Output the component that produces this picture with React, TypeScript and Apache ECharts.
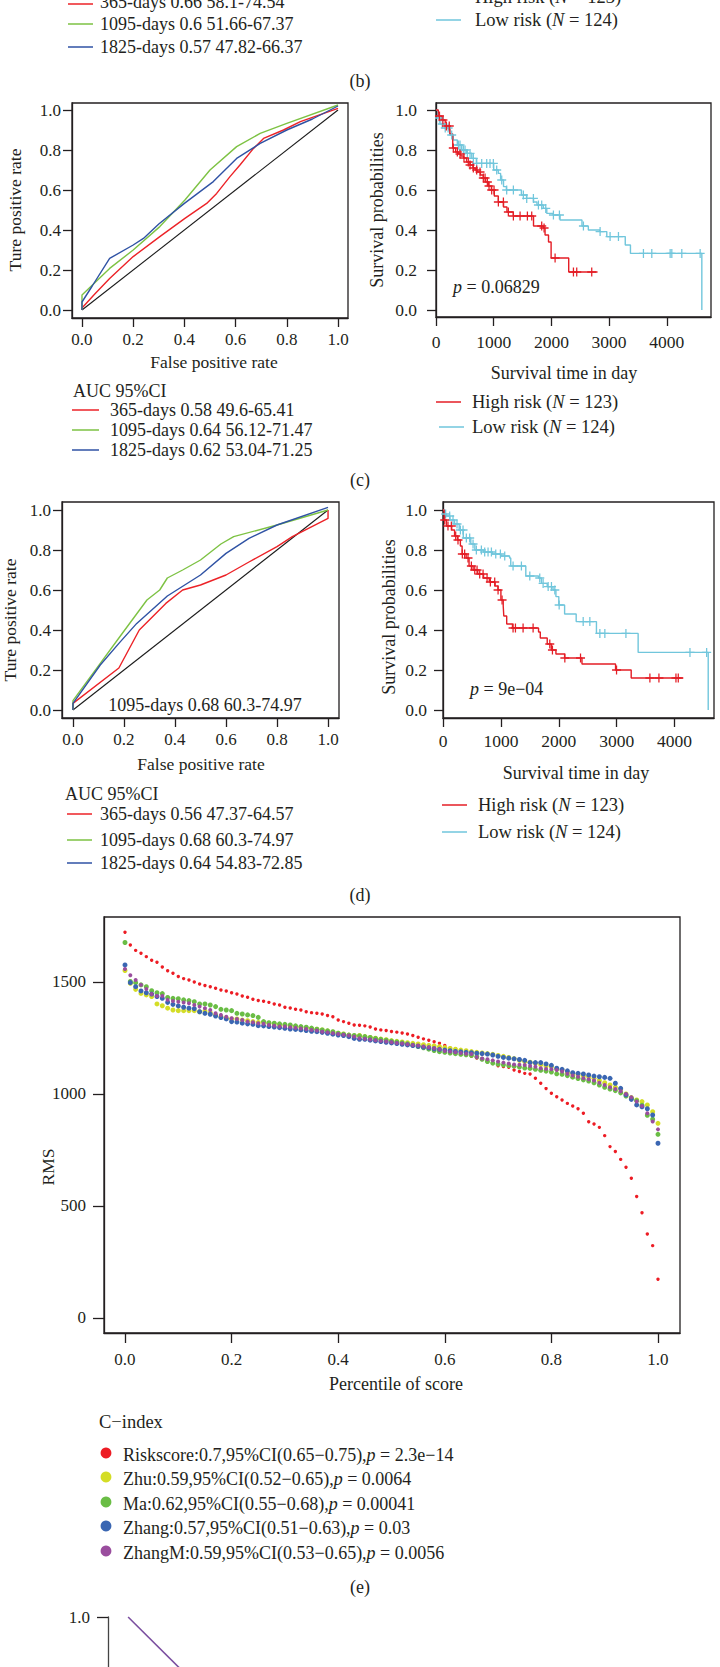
import React, { useEffect, useRef } from 'react';
import * as echarts from 'echarts';

const FONT = "'Liberation Serif', 'Times New Roman', serif";
const TXT = '#231f20';
const AX = '#231f20';
const ROC_RED = '#ec2227';
const ROC_GREEN = '#7dc243';
const ROC_BLUE = '#2f52a4';
const KM_RED = '#e41e26';
const KM_CYAN = '#71c6dc';
const E_RED = '#ed1c24';
const E_YELLOW = '#d4dd26';
const E_GREEN = '#6abd45';
const E_BLUE = '#3a66b2';
const E_PURPLE = '#9a4d9e';

const LEG = 18;
const KMLEG = 18.5;
const TITLE = 17.5;
const TICK = 17;

// ---------- Panel (c) ROC ----------
const rocC365X = [0, 0, 0.05, 0.108, 0.2, 0.304, 0.402, 0.487, 0.526, 0.578, 0.617, 0.67, 0.709, 0.787, 0.853, 1.0];
const rocC365Y = [0, 0.01, 0.08, 0.158, 0.267, 0.367, 0.458, 0.533, 0.583, 0.667, 0.725, 0.808, 0.858, 0.9, 0.942, 1.008];
const rocC1095X = [0, 0, 0.108, 0.2, 0.304, 0.402, 0.5, 0.604, 0.696, 0.8, 1.0];
const rocC1095Y = [0, 0.075, 0.208, 0.3, 0.417, 0.55, 0.7, 0.817, 0.883, 0.933, 1.025];
const rocC1825X = [0, 0, 0.04, 0.108, 0.2, 0.24, 0.3, 0.4, 0.513, 0.604, 0.696, 0.8, 0.9, 1.0];
const rocC1825Y = [0, 0.04, 0.12, 0.258, 0.325, 0.358, 0.43, 0.533, 0.642, 0.758, 0.833, 0.9, 0.955, 1.02];

// ---------- Panel (d) ROC ----------
const rocD365X = [0, 0, 0.18, 0.26, 0.364, 0.43, 0.5, 0.6, 0.69, 0.8, 0.86, 1.0, 1.0];
const rocD365Y = [0, 0.033, 0.21, 0.4, 0.533, 0.6, 0.625, 0.675, 0.74, 0.817, 0.867, 0.958, 1.0];
const rocD1095X = [0, 0, 0.107, 0.18, 0.29, 0.34, 0.37, 0.43, 0.5, 0.58, 0.63, 0.8, 1.0];
const rocD1095Y = [0, 0.047, 0.233, 0.36, 0.55, 0.6, 0.66, 0.7, 0.75, 0.83, 0.867, 0.925, 1.0];
const rocD1825X = [0, 0, 0.107, 0.18, 0.25, 0.37, 0.5, 0.6, 0.69, 0.8, 1.0];
const rocD1825Y = [0, 0.033, 0.225, 0.333, 0.433, 0.57, 0.675, 0.783, 0.858, 0.925, 1.013];
const diagX = [0, 1];
const diagY = [0, 1];

// ---------- Panel (c) KM ----------
const kmCHighT = [0, 40, 100, 160, 240, 290, 340, 390, 430, 480, 530, 590, 640, 680, 720, 770, 820, 860, 910, 960, 1010, 1080, 1170, 1230, 1340, 1690, 1860, 1890, 1950, 1995, 2300, 2800];
const kmCHighS = [1.0, 0.97, 0.95, 0.92, 0.88, 0.81, 0.79, 0.78, 0.77, 0.76, 0.74, 0.725, 0.71, 0.7, 0.69, 0.675, 0.66, 0.64, 0.62, 0.6, 0.57, 0.54, 0.515, 0.49, 0.47, 0.42, 0.41, 0.375, 0.34, 0.26, 0.19, 0.19];
const kmCHighCens = [60, 120, 180, 230, 300, 370, 416, 485, 560, 590, 647, 705, 763, 820, 850, 890, 919, 965, 1006, 1081, 1168, 1254, 1341, 1457, 1584, 1659, 1832, 1873, 2064, 2382, 2439, 2699];
const kmCLowT = [0, 30, 70, 150, 240, 300, 370, 445, 530, 620, 700, 1000, 1080, 1120, 1170, 1220, 1480, 1570, 1690, 1750, 1860, 1920, 2030, 2150, 2530, 2640, 2840, 2960, 3280, 3370, 4607];
const kmCLowS = [1.0, 0.96, 0.93, 0.91, 0.875, 0.85, 0.825, 0.8, 0.783, 0.758, 0.733, 0.7, 0.683, 0.65, 0.617, 0.6, 0.575, 0.558, 0.54, 0.525, 0.508, 0.483, 0.475, 0.45, 0.42, 0.4, 0.392, 0.367, 0.325, 0.283, 0.0];
const kmCLowCens = [60, 110, 160, 210, 272, 387, 416, 474, 503, 543, 590, 647, 705, 792, 879, 936, 994, 1052, 1139, 1225, 1341, 1514, 1572, 1688, 1775, 1832, 1902, 2035, 2139, 2555, 2844, 3017, 3162, 3595, 3740, 4058, 4087, 4260, 4578];

// ---------- Panel (d) KM ----------
const kmDHighT = [0, 20, 60, 150, 200, 250, 300, 330, 400, 450, 520, 600, 700, 800, 900, 950, 1000, 1040, 1050, 1100, 1200, 1650, 1680, 1800, 1870, 1950, 2100, 2400, 2980, 3250, 4150];
const kmDHighS = [1.0, 0.95, 0.92, 0.9, 0.87, 0.85, 0.82, 0.78, 0.76, 0.72, 0.7, 0.68, 0.66, 0.64, 0.62, 0.6, 0.55, 0.52, 0.47, 0.43, 0.41, 0.39, 0.36, 0.33, 0.3, 0.28, 0.26, 0.23, 0.2, 0.16, 0.16];
const kmDHighCens = [30, 86, 144, 219, 259, 334, 374, 432, 490, 548, 588, 634, 692, 761, 818, 893, 951, 1020, 1210, 1251, 1383, 1556, 1844, 1890, 2104, 2375, 2997, 3573, 3729, 4023, 4063];
const kmDLowT = [0, 30, 60, 120, 200, 280, 350, 480, 550, 700, 850, 1000, 1150, 1170, 1430, 1650, 1700, 1800, 1900, 1950, 2000, 2100, 2300, 2650, 3370, 4580];
const kmDLowS = [1.0, 0.98, 0.97, 0.95, 0.93, 0.9, 0.86, 0.83, 0.8, 0.79, 0.78, 0.77, 0.76, 0.72, 0.67, 0.66, 0.633, 0.617, 0.6, 0.567, 0.525, 0.48, 0.442, 0.383, 0.288, 0.0];
const kmDLowCens = [46, 115, 173, 242, 300, 346, 403, 461, 519, 576, 663, 720, 778, 836, 911, 991, 1066, 1210, 1354, 1499, 1671, 1729, 1816, 1873, 1931, 2006, 2421, 2536, 2709, 2795, 3159, 4265, 4553];

// ---------- Panel (e) RMS by percentile ----------
const eRiskscore = [
  1722, 1665, 1641, 1628, 1613, 1597, 1588, 1567, 1550, 1539,
  1524, 1515, 1509, 1500, 1491, 1484, 1479, 1472, 1464, 1460,
  1452, 1446, 1437, 1432, 1423, 1417, 1414, 1409, 1402, 1397,
  1387, 1384, 1378, 1375, 1367, 1363, 1360, 1357, 1350, 1345,
  1330, 1323, 1316, 1308, 1307, 1304, 1299, 1290, 1286, 1283,
  1279, 1276, 1272, 1268, 1261, 1253, 1246, 1240, 1233, 1226,
  1216, 1205, 1196, 1188, 1178, 1168, 1160, 1155, 1150, 1136,
  1126, 1122, 1119, 1107, 1100, 1092, 1089, 1070, 1048, 1024,
  1003, 988, 973, 958, 946, 934, 914, 876, 866, 851,
  814, 765, 743, 708, 673, 624, 542, 470, 375, 323,
  173,
];
const eZhu = [
  1551, 1494, 1467, 1449, 1442, 1435, 1402, 1394, 1383, 1375,
  1372, 1372, 1372, 1372, 1367, 1370, 1363, 1353, 1345, 1340,
  1335, 1335, 1330, 1327, 1323, 1319, 1320, 1316, 1313, 1308,
  1306, 1304, 1301, 1298, 1295, 1292, 1289, 1286, 1281, 1276,
  1271, 1268, 1263, 1259, 1261, 1256, 1252, 1249, 1245, 1242,
  1238, 1235, 1232, 1229, 1226, 1223, 1220, 1217, 1214, 1211,
  1207, 1203, 1200, 1196, 1193, 1189, 1186, 1183, 1180, 1177,
  1172, 1168, 1163, 1158, 1150, 1145, 1142, 1137, 1131, 1125,
  1122, 1110, 1107, 1095, 1089, 1085, 1080, 1077, 1070, 1060,
  1050, 1040, 1030, 1021, 1000, 984, 973, 966, 951, 921,
  869,
];
const eMa = [
  1676, 1502, 1497, 1487, 1479, 1461, 1452, 1448, 1431, 1427,
  1425, 1420, 1417, 1412, 1402, 1402, 1397, 1390, 1378, 1375,
  1372, 1360, 1357, 1353, 1350, 1342, 1323, 1318, 1316, 1313,
  1311, 1308, 1304, 1301, 1298, 1294, 1289, 1286, 1282, 1278,
  1271, 1267, 1263, 1261, 1259, 1256, 1252, 1248, 1244, 1240,
  1236, 1232, 1228, 1224, 1218, 1212, 1206, 1200, 1194, 1189,
  1186, 1183, 1180, 1177, 1175, 1172, 1166, 1155, 1145, 1138,
  1133, 1130, 1127, 1124, 1120, 1116, 1114, 1110, 1106, 1102,
  1098, 1090, 1088, 1082, 1075, 1069, 1063, 1058, 1050, 1040,
  1030, 1022, 1015, 1005, 991, 981, 970, 950, 905, 887,
  820,
];
const eZhang = [
  1576, 1497, 1479, 1460, 1452, 1446, 1435, 1427, 1409, 1400,
  1393, 1387, 1383, 1381, 1367, 1360, 1356, 1348, 1341, 1335,
  1323, 1321, 1316, 1313, 1311, 1305, 1304, 1301, 1299, 1296,
  1293, 1290, 1288, 1286, 1283, 1280, 1278, 1275, 1271, 1267,
  1263, 1261, 1256, 1248, 1244, 1244, 1240, 1237, 1234, 1231,
  1228, 1225, 1222, 1219, 1216, 1213, 1209, 1206, 1202, 1199,
  1196, 1193, 1190, 1188, 1186, 1184, 1182, 1180, 1178, 1174,
  1168, 1163, 1160, 1157, 1154, 1150, 1140, 1140, 1140, 1134,
  1128, 1115, 1110, 1103, 1095, 1092, 1089, 1085, 1080, 1077,
  1074, 1070, 1048, 1025, 996, 976, 951, 943, 934, 906,
  780,
];
const eZhangM = [
  1558, 1530, 1509, 1487, 1469, 1446, 1437, 1437, 1420, 1415,
  1412, 1408, 1405, 1397, 1390, 1383, 1375, 1360, 1353, 1345,
  1338, 1335, 1330, 1323, 1320, 1316, 1313, 1308, 1305, 1301,
  1301, 1298, 1295, 1292, 1290, 1286, 1283, 1278, 1275, 1271,
  1268, 1264, 1261, 1256, 1249, 1246, 1243, 1240, 1237, 1234,
  1231, 1228, 1225, 1222, 1219, 1216, 1212, 1208, 1204, 1200,
  1192, 1189, 1186, 1183, 1180, 1178, 1165, 1158, 1155, 1150,
  1145, 1140, 1136, 1132, 1130, 1129, 1125, 1122, 1115, 1112,
  1110, 1107, 1100, 1090, 1082, 1077, 1070, 1066, 1060, 1050,
  1040, 1030, 1022, 1012, 1000, 985, 966, 946, 914, 877,
  842,
];

// ---------- Panel (f) (partially visible) ----------
const fX = [0.067, 0.245];
const fY = [1.0, 0.735];

// tick labels
const rocTicks = [0, 0.2, 0.4, 0.6, 0.8, 1.0];
const kmTimeTicks = [0, 1000, 2000, 3000, 4000];
const eXTicks = [0, 0.2, 0.4, 0.6, 0.8, 1.0];
const eYTicks = [0, 500, 1000, 1500];
const fYTicks = [1.0];

const PLUS = 'path://M4.3,0H5.7V4.3H10V5.7H5.7V10H4.3V5.7H0V4.3H4.3Z';

function pairs(xs: number[], ys: number[]) {
  return xs.map((x, i) => [x, ys[i]]);
}
function stepAt(ts: number[], ss: number[], t: number) {
  let v = ss[0];
  for (let i = 0; i < ts.length; i++) {
    if (ts[i] <= t) v = ss[i];
    else break;
  }
  return v;
}

function axis(gridIndex: number, min: number, max: number, ticks: number[], margin: number, fmt: (v: number) => string, extra: any = {}) {
  return {
    type: 'value',
    gridIndex,
    min,
    max,
    axisLine: { show: true, onZero: false, lineStyle: { color: AX, width: 1.3 } },
    axisTick: { show: true, inside: false, length: extra.tickLen ?? 9, customValues: ticks, lineStyle: { color: AX, width: 1.3 } },
    axisLabel: { show: true, customValues: ticks, margin, formatter: fmt, fontFamily: FONT, fontSize: extra.fontSize ?? TICK, color: TXT },
    splitLine: { show: false },
  };
}

const f1 = (v: number) => v.toFixed(1);
const f0 = (v: number) => String(Math.round(v));

function T(x: number, y: number, text: string, o: any = {}) {
  const size = o.size ?? LEG;
  const base = { fontFamily: FONT, fontSize: size, fill: TXT, color: TXT };
  return {
    type: 'text',
    x,
    y,
    rotation: o.rot ?? 0,
    silent: true,
    style: {
      text,
      fontFamily: FONT,
      fontSize: size,
      fontStyle: o.italic ? 'italic' : 'normal',
      fill: TXT,
      textAlign: o.align ?? 'left',
      align: o.align ?? 'left',
      textVerticalAlign: 'middle',
      verticalAlign: 'middle',
      rich: {
        a: { ...base },
        i: { ...base, fontStyle: 'italic' },
      },
    },
  };
}
function L(x1: number, y1: number, x2: number, y2: number, color: string, w = 1.5) {
  return { type: 'line', silent: true, shape: { x1, y1, x2, y2 }, style: { stroke: color, lineWidth: w } };
}
function C(cx: number, cy: number, color: string) {
  return { type: 'circle', silent: true, shape: { cx, cy, r: 5.4 }, style: { fill: color } };
}

function buildOption() {
  const gridStyle = { show: true, borderColor: AX, borderWidth: 1.3, backgroundColor: 'transparent' };
  const grid = [
    { left: 72, top: 103, width: 276, height: 215, ...gridStyle },
    { left: 436, top: 103, width: 275, height: 214, ...gridStyle },
    { left: 62, top: 502, width: 277, height: 216, ...gridStyle },
    { left: 443, top: 502, width: 271, height: 216, ...gridStyle },
    { left: 104, top: 917, width: 576, height: 416, ...gridStyle },
    { left: 108, top: 1617, width: 300, height: 50, show: false },
  ];
  const xAxis: any[] = [
    axis(0, -0.039, 1.039, rocTicks, 13, f1),
    axis(1, 0, 4766, kmTimeTicks, 16, f0, { fontSize: 17.5 }),
    axis(2, -0.043, 1.043, rocTicks, 13, f1),
    axis(3, 0, 4680, kmTimeTicks, 14, f0, { fontSize: 17.5 }),
    axis(4, -0.0394, 1.0413, eXTicks, 18, f1, { tickLen: 10 }),
    { type: 'value', gridIndex: 5, min: 0, max: 1, show: false },
  ];
  const yAxis: any[] = [
    axis(0, -0.04, 1.035, rocTicks, 11, f1),
    axis(1, -0.035, 1.035, rocTicks, 19, f1, { fontSize: 17.5 }),
    axis(2, -0.04, 1.04, rocTicks, 11, f1),
    axis(3, -0.04, 1.04, rocTicks, 16, f1, { fontSize: 17.5 }),
    axis(4, -67, 1790, eYTicks, 18, f0, { tickLen: 11 }),
    {
      ...axis(5, 0.75, 1.0, fYTicks, 18, f1, { tickLen: 11 }),
      axisLine: { show: true, onZero: false, lineStyle: { color: '#444', width: 1.3 } },
    },
  ];

  const line = (xi: number, data: number[][], color: string, w = 1.4, step: any = false, z = 3) => ({
    type: 'line',
    xAxisIndex: xi,
    yAxisIndex: xi,
    data,
    step,
    symbol: 'none',
    showSymbol: false,
    smooth: false,
    clip: false,
    lineStyle: { color, width: w },
    z,
    silent: true,
  });
  const cens = (xi: number, times: number[], ts: number[], ss: number[], color: string) => ({
    type: 'scatter',
    xAxisIndex: xi,
    yAxisIndex: xi,
    data: times.map((t) => [t, stepAt(ts, ss, t)]),
    symbol: PLUS,
    symbolSize: 9,
    itemStyle: { color, opacity: 1 },
    z: 4,
    silent: true,
  });
  const pts = (arr: number[], color: string, size: number, z: number) => ({
    type: 'scatter',
    xAxisIndex: 4,
    yAxisIndex: 4,
    data: arr.map((v, i) => [i / (arr.length - 1), v]),
    symbol: 'circle',
    symbolSize: size,
    itemStyle: { color, opacity: 1, borderWidth: 0 },
    z,
    silent: true,
  });

  const series: any[] = [
    // (c) ROC
    line(0, pairs(diagX, diagY), '#1a1a1a', 1.1),
    line(0, pairs(rocC365X, rocC365Y), ROC_RED),
    line(0, pairs(rocC1095X, rocC1095Y), ROC_GREEN),
    line(0, pairs(rocC1825X, rocC1825Y), ROC_BLUE),
    // (c) KM
    line(1, pairs(kmCLowT, kmCLowS), KM_CYAN, 1.4, 'end'),
    line(1, pairs(kmCHighT, kmCHighS), KM_RED, 1.4, 'end'),
    cens(1, kmCLowCens, kmCLowT, kmCLowS, KM_CYAN),
    cens(1, kmCHighCens, kmCHighT, kmCHighS, KM_RED),
    // (d) ROC
    line(2, pairs(diagX, diagY), '#1a1a1a', 1.1),
    line(2, pairs(rocD365X, rocD365Y), ROC_RED),
    line(2, pairs(rocD1095X, rocD1095Y), ROC_GREEN),
    line(2, pairs(rocD1825X, rocD1825Y), ROC_BLUE),
    // (d) KM
    line(3, pairs(kmDLowT, kmDLowS), KM_CYAN, 1.4, 'end'),
    line(3, pairs(kmDHighT, kmDHighS), KM_RED, 1.4, 'end'),
    cens(3, kmDLowCens, kmDLowT, kmDLowS, KM_CYAN),
    cens(3, kmDHighCens, kmDHighT, kmDHighS, KM_RED),
    // (e)
    pts(eRiskscore, E_RED, 3.4, 2),
    pts(eZhu, E_YELLOW, 5, 3),
    pts(eMa, E_GREEN, 5, 4),
    pts(eZhang, E_BLUE, 5, 5),
    pts(eZhangM, E_PURPLE, 4, 6),
    // (f)
    line(5, pairs(fX, fY), '#7b4fa0', 1.6),
  ];

  const elements: any[] = [
    // (b) remnants
    L(68, 4, 93, 4, ROC_RED), T(100, 2, '365-days 0.66 58.1-74.54'),
    L(68, 24, 93, 24, ROC_GREEN), T(100, 24, '1095-days 0.6 51.66-67.37'),
    L(68, 47, 93, 47, ROC_BLUE), T(100, 47, '1825-days 0.57 47.82-66.37'),
    L(436, -4, 461, -4, KM_RED), T(475, -3, '{a|High risk (}{i|N}{a| = 123)}', { size: KMLEG }),
    L(436, 20, 461, 20, KM_CYAN), T(475, 20, '{a|Low risk (}{i|N}{a| = 124)}', { size: KMLEG }),
    T(360, 81, '(b)', { align: 'center' }),
    // (c)
    T(15, 210, 'Ture positive rate', { rot: Math.PI / 2, align: 'center', size: TITLE }),
    T(214, 362, 'False positive rate', { align: 'center', size: TITLE }),
    T(73, 391, 'AUC 95%CI'),
    L(72, 410, 99, 410, ROC_RED), T(110, 410, '365-days 0.58 49.6-65.41'),
    L(72, 430, 99, 430, ROC_GREEN), T(110, 430, '1095-days 0.64 56.12-71.47'),
    L(72, 450, 99, 450, ROC_BLUE), T(110, 450, '1825-days 0.62 53.04-71.25'),
    T(377, 210, 'Survival probabilities', { rot: Math.PI / 2, align: 'center' }),
    T(453, 287, '{i|p}{a| = 0.06829}'),
    T(564, 373, 'Survival time in day', { align: 'center' }),
    L(436, 402, 461, 402, KM_RED), T(472, 402, '{a|High risk (}{i|N}{a| = 123)}', { size: KMLEG }),
    L(439, 427, 464, 427, KM_CYAN), T(472, 427, '{a|Low risk (}{i|N}{a| = 124)}', { size: KMLEG }),
    T(360, 480, '(c)', { align: 'center' }),
    // (d)
    T(10, 620, 'Ture positive rate', { rot: Math.PI / 2, align: 'center', size: TITLE }),
    T(205, 705, '1095-days 0.68 60.3-74.97', { align: 'center' }),
    T(201, 764, 'False positive rate', { align: 'center', size: TITLE }),
    T(65, 794, 'AUC 95%CI'),
    L(67, 814, 92, 814, ROC_RED), T(100, 814, '365-days 0.56 47.37-64.57'),
    L(67, 840, 92, 840, ROC_GREEN), T(100, 840, '1095-days 0.68 60.3-74.97'),
    L(67, 863, 92, 863, ROC_BLUE), T(100, 863, '1825-days 0.64 54.83-72.85'),
    T(389, 617, 'Survival probabilities', { rot: Math.PI / 2, align: 'center' }),
    T(470, 689, '{i|p}{a| = 9e\u221204}'),
    T(576, 773, 'Survival time in day', { align: 'center' }),
    L(442, 805, 467, 805, KM_RED), T(478, 805, '{a|High risk (}{i|N}{a| = 123)}', { size: KMLEG }),
    L(442, 832, 467, 832, KM_CYAN), T(478, 832, '{a|Low risk (}{i|N}{a| = 124)}', { size: KMLEG }),
    T(360, 895, '(d)', { align: 'center' }),
    // (e)
    T(48, 1167, 'RMS', { rot: Math.PI / 2, align: 'center', size: 17.5 }),
    T(396, 1384, 'Percentile of score', { align: 'center' }),
    T(99, 1422, 'C\u2212index', { size: 18.5 }),
    C(106, 1453, E_RED), T(123, 1455, '{a|Riskscore:0.7,95%CI(0.65\u22120.75),}{i|p}{a| = 2.3e\u221214}'),
    C(106, 1477, E_YELLOW), T(123, 1479, '{a|Zhu:0.59,95%CI(0.52\u22120.65),}{i|p}{a| = 0.0064}'),
    C(106, 1502, E_GREEN), T(123, 1504, '{a|Ma:0.62,95%CI(0.55\u22120.68),}{i|p}{a| = 0.00041}'),
    C(106, 1526, E_BLUE), T(123, 1528, '{a|Zhang:0.57,95%CI(0.51\u22120.63),}{i|p}{a| = 0.03}'),
    C(106, 1551, E_PURPLE), T(123, 1553, '{a|ZhangM:0.59,95%CI(0.53\u22120.65),}{i|p}{a| = 0.0056}'),
    T(360, 1587, '(e)', { align: 'center' }),
  ];

  return {
    animation: false,
    backgroundColor: '#ffffff',
    grid,
    xAxis,
    yAxis,
    series,
    graphic: { elements },
  };
}

export default function App() {
  const ref = useRef<HTMLDivElement>(null);
  useEffect(() => {
    document.body.style.margin = '0';
    const chart = echarts.init(ref.current as HTMLDivElement, null, { renderer: 'svg' });
    chart.setOption(buildOption() as any);
    return () => chart.dispose();
  }, []);
  return <div ref={ref} style={{ width: 720, height: 1667 }} />;
}
